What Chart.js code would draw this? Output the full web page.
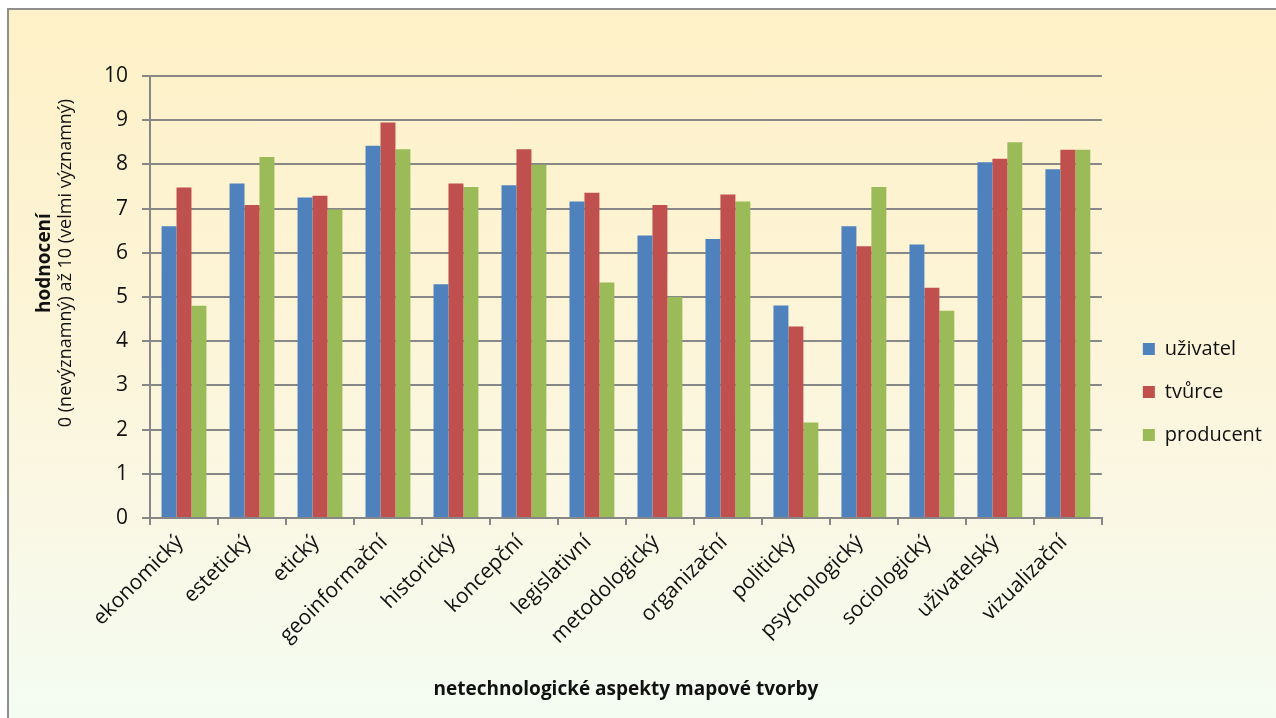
<!DOCTYPE html>
<html lang="cs">
<head>
<meta charset="utf-8">
<title>Netechnologické aspekty mapové tvorby</title>
<script src="https://cdn.jsdelivr.net/npm/chart.js@4.4.1/dist/chart.umd.min.js"></script>
<style>
  html, body { margin: 0; padding: 0; background: #ffffff; }
  body { width: 1276px; height: 718px; position: relative; overflow: hidden; }
  #frame {
    position: absolute; left: 7px; top: 8px; width: 1267px; height: 708px;
    border-top: 2px solid #8e8e8e; border-left: 2px solid #8e8e8e;
    background: linear-gradient(180deg, #fef1c7 0%, #fdf4d6 40%, #f9f8e6 75%, #f4fcf2 100%);
  }
  #wrap { position: absolute; left: 0; top: 0; width: 1267px; height: 708px; }
</style>
</head>
<body>
<div id="frame"><div id="wrap"><canvas id="chart"></canvas></div></div>
<script>
// Aspekty (kategorie osy x)
const categories = [
  'ekonomický', 'estetický', 'etický', 'geoinformační', 'historický',
  'koncepční', 'legislativní', 'metodologický', 'organizační', 'politický',
  'psychologický', 'sociologický', 'uživatelský', 'vizualizační'
];

// Průměrné hodnocení podle skupin respondentů
const uzivatel  = [6.60, 7.57, 7.25, 8.42, 5.29, 7.53, 7.16, 6.39, 6.31, 4.81, 6.60, 6.19, 8.05, 7.89];
const tvurce    = [7.48, 7.08, 7.29, 8.95, 7.57, 8.34, 7.36, 7.08, 7.32, 4.33, 6.15, 5.21, 8.13, 8.33];
const producent = [4.80, 8.17, 6.98, 8.34, 7.49, 7.99, 5.33, 5.00, 7.16, 2.16, 7.49, 4.69, 8.50, 8.33];

// Popisky skupin a osy
const seriesNames = ['uživatel', 'tvůrce', 'producent'];
const yTicks = [0, 1, 2, 3, 4, 5, 6, 7, 8, 9, 10];
const yTitleBold = 'hodnocení';
const yTitle = '0 (nevýznamný) až 10 (velmi významný)';
const xTitle = 'netechnologické aspekty mapové tvorby';

const FONT = '"Open Sans", "DejaVu Sans", sans-serif';
const GRID = '#878787';

// Dvouřádkový popis osy y: první řádek tučně, druhý normálně
const yAxisTitle = {
  id: 'yAxisTitle',
  afterDraw(chart, args, opts) {
    const ctx = chart.ctx;
    ctx.save();
    ctx.fillStyle = opts.color;
    ctx.textAlign = 'center';
    ctx.textBaseline = 'middle';
    for (const line of opts.lines) {
      ctx.save();
      ctx.translate(line.x, opts.centerY);
      ctx.rotate(-Math.PI / 2);
      ctx.font = line.font;
      ctx.fillText(line.text, 0, 0);
      ctx.restore();
    }
    ctx.restore();
  }
};

new Chart(document.getElementById('chart'), {
  type: 'bar',
  data: {
    labels: categories,
    datasets: [
      { label: seriesNames[0], data: uzivatel,  backgroundColor: '#4f81bd' },
      { label: seriesNames[1], data: tvurce,    backgroundColor: '#c0504d' },
      { label: seriesNames[2], data: producent, backgroundColor: '#9bbb59' }
    ]
  },
  plugins: [yAxisTitle],
  options: {
    responsive: true,
    maintainAspectRatio: false,
    animation: false,
    datasets: { bar: { barPercentage: 1.0, categoryPercentage: 0.66 } },
    layout: { padding: { left: 45, right: 4, top: 66, bottom: 10 } },
    plugins: {
      tooltip: { enabled: false },
      legend: {
        position: 'right',
        align: 'center',
        labels: {
          boxWidth: 12, boxHeight: 12, padding: 23,
          color: '#111', font: { family: FONT, size: 20 }
        }
      },
      yAxisTitle: {
        color: '#111',
        centerY: 253,
        lines: [
          { text: yTitleBold, x: 36, font: 'bold 19px ' + FONT },
          { text: yTitle, x: 57, font: '18px ' + FONT }
        ]
      }
    },
    scales: {
      x: {
        afterFit: s => { s.height = 190; },
        grid: { display: true, drawOnChartArea: false, drawTicks: true, tickLength: 7, color: GRID, lineWidth: 2, offset: true },
        border: { display: true, color: GRID, width: 2 },
        ticks: {
          autoSkip: false, maxRotation: 45, minRotation: 45, padding: 5, labelOffset: -4,
          color: '#111', font: { family: FONT, size: 21 }
        },
        title: {
          display: true, text: xTitle, color: '#111',
          font: { family: FONT, size: 19, weight: 'bold' }, padding: { top: 0, bottom: 7 }
        }
      },
      y: {
        min: 0, max: 10,
        afterFit: s => { s.width = 96; },
        afterBuildTicks: s => { s.ticks = yTicks.map(v => ({ value: v })); },
        grid: { color: GRID, lineWidth: 2, drawTicks: true, tickLength: 8 },
        border: { display: true, color: GRID, width: 2 },
        ticks: { padding: 14, color: '#111', font: { family: FONT, size: 21 } }
      },
      // prázdný pruh mezi grafem a legendou
      yGap: {
        position: 'right',
        min: 0, max: 10,
        afterFit: s => { s.width = 18; },
        grid: { display: false, drawTicks: false },
        border: { display: false },
        ticks: { display: false }
      }
    }
  }
});
</script>
</body>
</html>
